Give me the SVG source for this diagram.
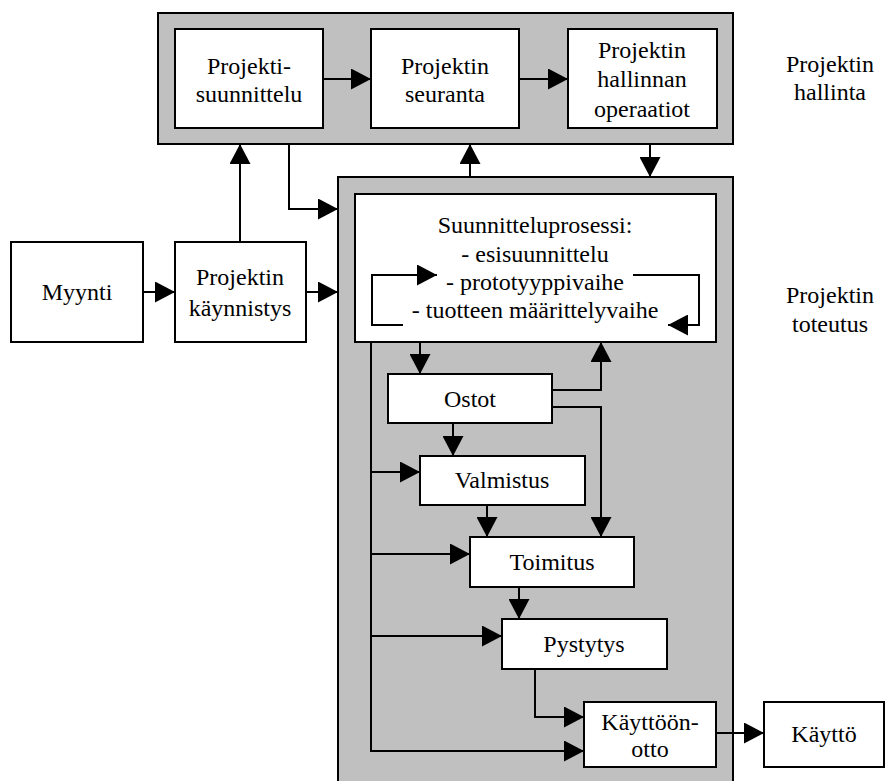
<svg xmlns="http://www.w3.org/2000/svg" width="885" height="781" viewBox="0 0 885 781">
  <defs>
    <style>
      .panel { fill: #c0c0c0; stroke: #000; stroke-width: 2; }
      .box { fill: #fff; stroke: #000; stroke-width: 2; }
      .lbl { font-family: "Liberation Serif", "Times New Roman", serif; font-size: 24px; fill: #000; text-anchor: middle; }
      .wire { fill: none; stroke: #000; stroke-width: 2; }
      .arr { marker-end: url(#head); }
    </style>
    <marker id="head" markerUnits="userSpaceOnUse" markerWidth="20" markerHeight="21" refX="20" refY="10.5" orient="auto">
      <path d="M0,0 L20,10.5 L0,21 z" fill="#000"/>
    </marker>
  </defs>

  <!-- background panels -->
  <g id="panel-hallinta">
    <rect class="panel" x="158" y="13" width="575" height="131"/>
  </g>
  <g id="panel-toteutus">
    <rect class="panel" x="338" y="177" width="395" height="620"/>
  </g>

  <!-- side labels -->
  <g id="label-hallinta">
    <text class="lbl" x="830" y="72">Projektin</text>
    <text class="lbl" x="830" y="100">hallinta</text>
  </g>
  <g id="label-toteutus">
    <text class="lbl" x="830" y="303">Projektin</text>
    <text class="lbl" x="830" y="332">toteutus</text>
  </g>

  <!-- nodes -->
  <g id="projektisuunnittelu">
    <rect class="box" x="175" y="29" width="148" height="99"/>
    <text class="lbl" x="249" y="74">Projekti-</text>
    <text class="lbl" x="249" y="102">suunnittelu</text>
  </g>
  <g id="seuranta">
    <rect class="box" x="371" y="29" width="148" height="99"/>
    <text class="lbl" x="445" y="74">Projektin</text>
    <text class="lbl" x="445" y="102">seuranta</text>
  </g>
  <g id="operaatiot">
    <rect class="box" x="568" y="29" width="149" height="99"/>
    <text class="lbl" x="642" y="58">Projektin</text>
    <text class="lbl" x="642" y="87">hallinnan</text>
    <text class="lbl" x="642" y="117">operaatiot</text>
  </g>
  <g id="myynti">
    <rect class="box" x="11" y="242" width="132" height="100"/>
    <text class="lbl" x="77" y="300">Myynti</text>
  </g>
  <g id="kaynnistys">
    <rect class="box" x="175" y="242" width="131" height="100"/>
    <text class="lbl" x="240" y="285">Projektin</text>
    <text class="lbl" x="240" y="316">käynnistys</text>
  </g>
  <g id="suunnitteluprosessi">
    <rect class="box" x="355" y="194" width="361" height="148"/>
    <text class="lbl" x="535" y="233">Suunnitteluprosessi:</text>
    <text class="lbl" x="535" y="262">- esisuunnittelu</text>
    <text class="lbl" x="535" y="290">- prototyyppivaihe</text>
    <text class="lbl" x="535" y="318">- tuotteen määrittelyvaihe</text>
  </g>
  <g id="ostot">
    <rect class="box" x="388" y="374" width="164" height="49"/>
    <text class="lbl" x="470" y="407">Ostot</text>
  </g>
  <g id="valmistus">
    <rect class="box" x="420" y="456" width="165" height="49"/>
    <text class="lbl" x="502" y="488">Valmistus</text>
  </g>
  <g id="toimitus">
    <rect class="box" x="470" y="537" width="164" height="50"/>
    <text class="lbl" x="552" y="570">Toimitus</text>
  </g>
  <g id="pystytys">
    <rect class="box" x="502" y="619" width="165" height="50"/>
    <text class="lbl" x="584" y="652">Pystytys</text>
  </g>
  <g id="kayttoonotto">
    <rect class="box" x="584" y="702" width="132" height="65"/>
    <text class="lbl" x="650" y="730">Käyttöön-</text>
    <text class="lbl" x="650" y="757">otto</text>
  </g>
  <g id="kaytto">
    <rect class="box" x="764" y="702" width="120" height="65"/>
    <text class="lbl" x="824" y="742">Käyttö</text>
  </g>

  <!-- connectors -->
  <g id="connectors">
    <path class="wire arr" d="M323,79 H371"/>
    <path class="wire arr" d="M519,79 H568"/>
    <path class="wire arr" d="M143,292 H175"/>
    <path class="wire arr" d="M306,292 H338"/>
    <path class="wire arr" d="M240,242 V144"/>
    <path class="wire arr" d="M289,144 V209 H338"/>
    <path class="wire arr" d="M470,177 V144"/>
    <path class="wire arr" d="M650,144 V177"/>
    <!-- iteration loop inside the design process -->
    <path class="wire arr" d="M403,325 H372 V275 H437"/>
    <path class="wire arr" d="M633,275 H699 V325 H668"/>
    <!-- execution chain -->
    <path class="wire arr" d="M420,342 V374"/>
    <path class="wire arr" d="M552,390 H601 V342"/>
    <path class="wire arr" d="M552,407 H601 V537"/>
    <path class="wire arr" d="M453,423 V456"/>
    <path class="wire arr" d="M487,505 V537"/>
    <path class="wire arr" d="M519,587 V619"/>
    <path class="wire arr" d="M535,669 V717 H584"/>
    <path class="wire arr" d="M716,733 H764"/>
    <!-- shared feed line from the design process -->
    <path class="wire arr" d="M371,342 V751 H584"/>
    <path class="wire arr" d="M371,472 H420"/>
    <path class="wire arr" d="M371,554 H470"/>
    <path class="wire arr" d="M371,636 H502"/>
  </g>
</svg>
